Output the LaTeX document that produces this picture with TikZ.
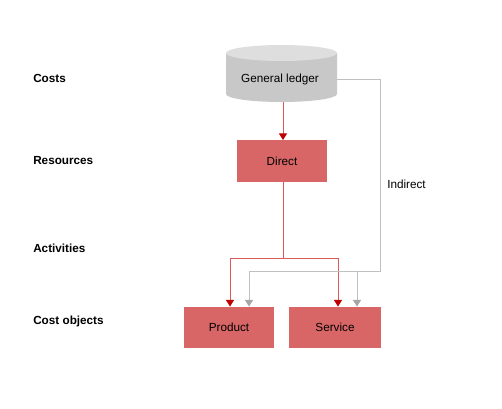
\documentclass[tikz,border=0pt]{standalone}
\usepackage{fontspec}
\setmainfont{Liberation Sans}
\usetikzlibrary{arrows.meta}
\definecolor{boxred}{RGB}{217,102,102}
\definecolor{linered}{RGB}{220,90,90}
\definecolor{tipred}{RGB}{192,0,0}
\definecolor{cylbody}{RGB}{200,200,200}
\definecolor{cyltop}{RGB}{222,222,222}
\definecolor{linegray}{RGB}{192,192,192}
\definecolor{tipgray}{RGB}{166,166,166}
\tikzset{
  redbox/.style={draw=none, fill=boxred, minimum width=67.5pt, minimum height=31pt, inner sep=0pt, font=\fontsize{8.8pt}{10pt}\selectfont},
  rowlabel/.style={anchor=west, inner sep=0pt, font=\fontsize{8.8pt}{10pt}\selectfont\bfseries},
  redline/.style={draw=linered, line width=0.75pt},
  grayline/.style={draw=linegray, line width=0.75pt},
  redarrow/.style={redline, -{Triangle[width=6pt,length=5pt,color=tipred]}},
  grayarrow/.style={grayline, -{Triangle[width=6pt,length=5pt,color=tipgray]}}
}
\begin{document}
\begin{tikzpicture}[x=0.75pt,y=-0.75pt]
\useasboundingbox (0,0) rectangle (502,408);
% cylinder
\node[minimum width=83.25pt, minimum height=36.75pt, inner sep=0pt] (gl) at (281.5,74.5) {};
\fill[cylbody] (226,53) -- (226,94) arc[start angle=180, end angle=360, x radius=41.625pt, y radius=6pt] -- (337,53) -- cycle;
\fill[cyltop] (281.5,53) ellipse[x radius=41.625pt, y radius=6pt];
\node[inner sep=0pt, font=\fontsize{8.8pt}{10pt}\selectfont] (gltext) at (280,79) {General ledger};
% boxes
\node[redbox] (direct) at (282,161) {Direct};
\node[redbox] (product) at (229,327.5) {Product};
\node[redbox, minimum width=69pt] (service) at (335,327.5) {Service};
% labels
\node[rowlabel] (lcosts) at (33,78) {Costs};
\node[rowlabel] (lres) at (33,161) {Resources};
\node[rowlabel] (lact) at (33,248) {Activities};
\node[rowlabel] (lobj) at (33,321) {Cost objects};
\node[anchor=west, inner sep=0pt, font=\fontsize{8.8pt}{10pt}\selectfont] (lind) at (387,184) {Indirect};
% coordinates
\coordinate (glbot) at (283,102);
\coordinate (rj) at (283,258);
\coordinate (rl) at (230,258);
\coordinate (rr) at (338,258);
\coordinate (gout) at (337,79);
\coordinate (gc) at (380,79);
\coordinate (gd) at (380,271);
\coordinate (gl1) at (249,271);
\coordinate (gr1) at (357,271);
% red connectors
\draw[redarrow] (glbot) -- (glbot |- direct.north);
\draw[redline] (direct.south -| rj) -- (rj);
\draw[redline] (rl) -- (rr);
\draw[redarrow] (rl) -- (rl |- product.north);
\draw[redarrow] (rr) -- (rr |- service.north);
% gray connectors
\draw[grayline] (gout) -- (gc) -- (gd) -- (gl1);
\draw[grayarrow] (gl1) -- (gl1 |- product.north);
\draw[grayarrow] (gr1) -- (gr1 |- service.north);
\end{tikzpicture}
\end{document}
